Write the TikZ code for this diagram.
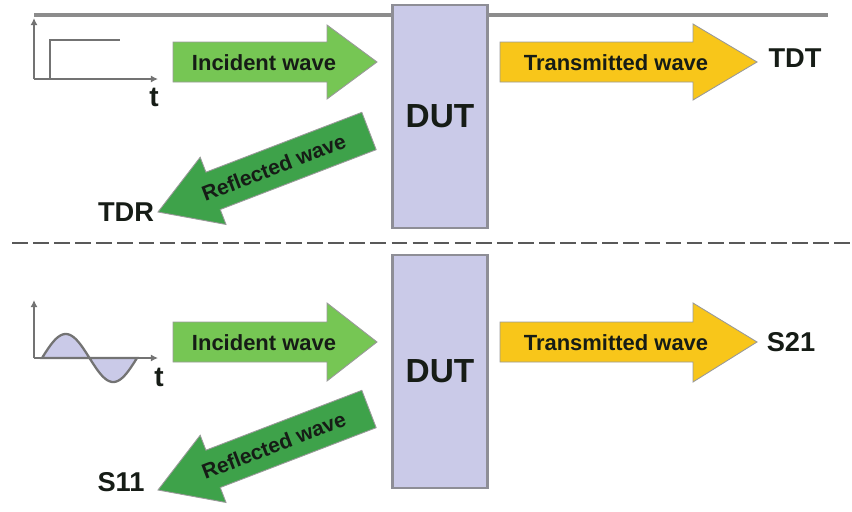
\documentclass[tikz,border=0pt]{standalone}
\usepackage{fontspec}
\setmainfont{Liberation Sans}
\usetikzlibrary{arrows.meta}

\definecolor{incgreen}{RGB}{118,198,84}
\definecolor{refgreen}{RGB}{62,162,74}
\definecolor{transyellow}{RGB}{248,198,26}
\definecolor{dutfill}{RGB}{202,202,232}
\definecolor{edgegray}{RGB}{142,142,150}
\definecolor{txt}{RGB}{22,28,22}

\begin{document}
\begin{tikzpicture}[
  x=0.02cm, y=-0.02cm,
  >={Latex[length=4pt,width=4pt]},
  dut/.style={draw=edgegray, line width=1.6pt, fill=dutfill, minimum width=1.9cm, font=\fontsize{19}{22}\selectfont\bfseries, text=txt},
  wave/.style={draw=black!40, line width=0.5pt},
  incarrow/.style={wave, fill=incgreen},
  refarrow/.style={wave, fill=refgreen},
  transarrow/.style={wave, fill=transyellow},
  wavetxt/.style={font=\fontsize{12.5}{14}\selectfont\bfseries, text=txt, inner sep=0pt},
  port/.style={font=\fontsize{15.5}{18}\selectfont\bfseries, text=txt},
  tlabel/.style={font=\fontsize{16}{18}\selectfont\bfseries, text=txt},
  axis/.style={->, draw=black!55, line width=1.3pt},
  stepline/.style={draw=black!55, line width=1.3pt},
  sine/.style={draw=black!55, fill=dutfill, line width=1.3pt},
  rail/.style={draw=gray!90, line width=1.8pt},
  sep/.style={draw=black!65, line width=1.7pt, dash pattern=on 9pt off 3pt},
]
\useasboundingbox (0,0) rectangle (852,511);

% Time domain (top)
\draw[rail] (34,15) -- (828,15);
\node[dut, minimum height=4.46cm] (dutT) at (440,116.5) {DUT};

\coordinate (o1) at (34,79);
\draw[axis] (o1) -- (34,18);
\draw[axis] (o1) -- (158,79);
\draw[stepline] (50,79) -- (50,40) -- (120,40);
\node[tlabel] (t1) at (154,97) {t};

\draw[incarrow] (173,42) -- (327,42) -- (327,25) -- (377,62) -- (327,99) -- (327,82) -- (173,82) -- cycle;
\node[wavetxt] (incT) at (264,63) {Incident wave};

\draw[transarrow] (500,42) -- (693,42) -- (693,24) -- (757,62) -- (693,100) -- (693,82) -- (500,82) -- cycle;
\node[wavetxt] (transT) at (616,63) {Transmitted wave};
\node[port] (tdt) at (795,58) {TDT};

\begin{scope}[shift={(369,131)}, rotate=201]
  \draw[refarrow] (0,-20) -- (167,-20) -- (167,-36) -- (226,0) -- (167,36) -- (167,20) -- (0,20) -- cycle;
  \node[wavetxt, font=\fontsize{12}{14}\selectfont\bfseries, rotate=21] (refT) at (102,0) {Reflected wave};
\end{scope}
\node[port] (tdr) at (126,212) {TDR};

% Separator
\draw[sep] (12,243) -- (852,243);

% Frequency domain (bottom)
\node[dut, minimum height=4.66cm] (dutB) at (440,371.5) {DUT};

\coordinate (o2) at (34,358);
\draw[sine] plot[domain=0:360, samples=72] ({42+\x/360*95}, {358-24*sin(\x)}) -- cycle;
\draw[axis] (o2) -- (34,300);
\draw[axis] (o2) -- (158,358);
\node[tlabel] (t2) at (159,377) {t};

\draw[incarrow] (173,322) -- (327,322) -- (327,303) -- (377,342) -- (327,381) -- (327,362) -- (173,362) -- cycle;
\node[wavetxt] (incB) at (264,343) {Incident wave};

\draw[transarrow] (500,322) -- (693,322) -- (693,303) -- (757,342) -- (693,382) -- (693,362) -- (500,362) -- cycle;
\node[wavetxt] (transB) at (616,343) {Transmitted wave};
\node[port] (s21) at (791,342) {S21};

\begin{scope}[shift={(369,409)}, rotate=201]
  \draw[refarrow] (0,-20) -- (167,-20) -- (167,-36) -- (226,0) -- (167,36) -- (167,20) -- (0,20) -- cycle;
  \node[wavetxt, font=\fontsize{12}{14}\selectfont\bfseries, rotate=21] (refB) at (102,0) {Reflected wave};
\end{scope}
\node[port] (s11) at (121,482) {S11};

\end{tikzpicture}
\end{document}
